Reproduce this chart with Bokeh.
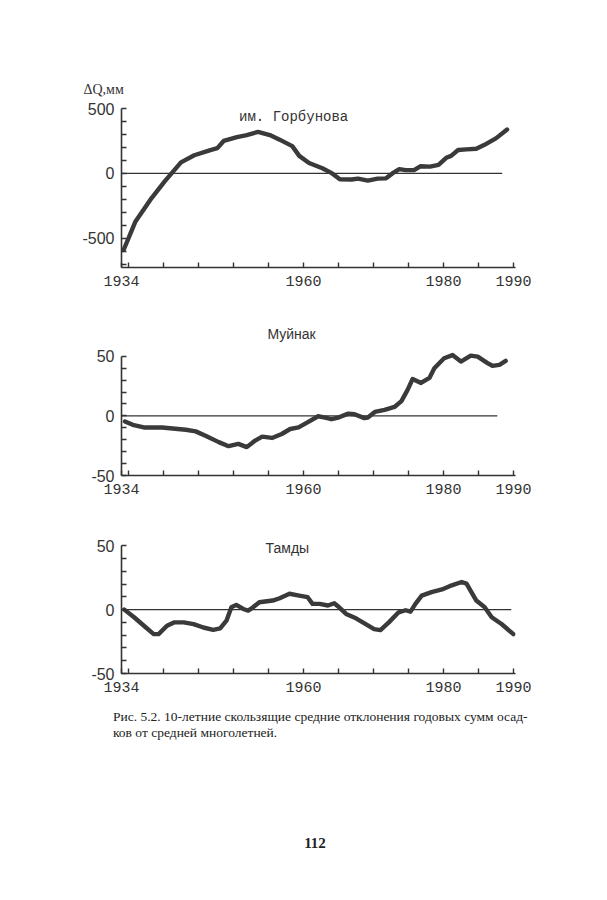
from bokeh.plotting import figure
from bokeh.models import FixedTicker, Label, Title, Div
from bokeh.layouts import column
from bokeh.embed import file_html
from bokeh.resources import INLINE

# ---------------- data ----------------
gorb_years = [1934.3, 1936.0, 1938.3, 1940.2, 1941.3, 1942.5, 1944.4, 1946.7, 1947.7, 1948.6,
              1950.5, 1951.9, 1953.5, 1955.2, 1956.6, 1958.4, 1959.4, 1960.8, 1962.7, 1964.1,
              1965.2, 1966.9, 1967.8, 1969.2, 1970.6, 1971.8, 1972.7, 1973.7, 1974.6, 1975.8,
              1976.7, 1978.1, 1979.3, 1980.4, 1981.1, 1982.1, 1983.3, 1984.7, 1985.8, 1987.5, 1989.1]
gorb_vals = [-590, -370, -190, -60, 10, 85, 140, 180, 195, 250,
             280, 295, 320, 295, 260, 210, 135, 80, 40, 0,
             -45, -47, -40, -55, -40, -38, 0, 33, 25, 25,
             55, 52, 65, 120, 135, 180, 185, 190, 218, 270, 338]

muin_years = [1934.5, 1935.6, 1937.2, 1939.8, 1943.2, 1944.6, 1946.0, 1947.9, 1949.3, 1950.7,
              1951.9, 1953.1, 1954.1, 1955.5, 1956.9, 1958.1, 1959.3, 1960.7, 1962.1, 1963.1,
              1964.0, 1965.0, 1966.4, 1967.3, 1968.7, 1969.2, 1970.2, 1971.6, 1973.0, 1974.0,
              1974.9, 1975.6, 1976.8, 1978.0, 1978.7, 1980.1, 1981.3, 1982.5, 1983.9, 1984.9,
              1986.3, 1987.0, 1988.0, 1988.9]
muin_vals = [-4.7, -7.5, -9.7, -9.7, -11.6, -13.0, -16.6, -22.0, -25.4, -23.5,
             -26.2, -20.7, -17.4, -18.5, -15.2, -11.0, -9.7, -5.0, -0.3, -1.4,
             -2.8, -1.4, 1.9, 1.4, -1.9, -1.4, 3.3, 5.0, 7.5, 12.4,
             22.0, 31.0, 27.6, 31.8, 40.0, 48.3, 51.0, 45.6, 50.5, 49.7,
             44.2, 42.0, 42.8, 46.1]

tamd_years = [1934.4, 1935.8, 1937.2, 1938.6, 1939.3, 1940.5, 1941.5, 1942.9, 1944.3, 1945.7,
              1947.1, 1948.1, 1949.0, 1949.7, 1950.4, 1951.4, 1952.1, 1952.8, 1953.7, 1955.6,
              1956.6, 1958.0, 1959.4, 1960.6, 1961.3, 1962.3, 1963.5, 1964.4, 1965.1, 1966.1,
              1967.5, 1968.9, 1970.1, 1971.0, 1972.2, 1973.6, 1974.6, 1975.3, 1976.0, 1976.9,
              1978.3, 1979.8, 1981.2, 1982.6, 1983.3, 1984.0, 1984.7, 1985.9, 1986.9, 1988.3, 1990.0]
tamd_vals = [0.0, -6.0, -12.6, -19.2, -19.2, -12.6, -10.0, -10.0, -11.3, -14.0,
             -15.8, -14.7, -8.7, 1.8, 3.7, 0.5, -0.8, 1.8, 5.8, 7.1,
             8.9, 12.4, 11.0, 9.7, 4.5, 4.5, 3.2, 5.0, 1.8, -3.4,
             -6.8, -11.3, -15.3, -16.0, -10.0, -2.1, -0.5, -1.6, 4.5, 11.0,
             13.7, 15.8, 19.0, 21.6, 20.3, 13.7, 7.1, 1.8, -6.0, -11.3, -19.2]

zero_start = 1934
zero_end = [1988.4, 1987.7, 1989.7]

x_ticks = [1934] + list(range(1935, 1991, 5))
x_labels = {1934: "1934", 1960: "1960", 1980: "1980", 1990: "1990"}

gorb_yticks = list(range(-700, 501, 100))
gorb_ylabels = {500: "500", 0: "0", -500: "-500"}
small_yticks = list(range(-50, 51, 10))
small_ylabels = {50: "50", 0: "0", -50: "-50"}

titles = ["им. Горбунова", "Муйнак", "Тамды"]
unit_label = "\u0394Q,мм"
caption1 = "Рис. 5.2. 10-летние скользящие средние отклонения годовых сумм осад-"
caption2 = "ков от средней многолетней."
page_no = "112"

INK = "#333333"
CURVE = "#3a3a3a"
XEND = 1990.3


def panel(height, top, bottom, yr, ybounds, yticks, ylabels, xs, ys, zend):
    p = figure(width=607, height=height, x_range=(1934, XEND), y_range=yr,
               output_backend="svg", toolbar_location=None,
               min_border_left=121, min_border_right=92,
               min_border_top=top, min_border_bottom=bottom)
    p.grid.visible = False
    p.outline_line_color = None
    p.background_fill_color = "white"
    p.border_fill_color = "white"

    p.xaxis.ticker = FixedTicker(ticks=x_ticks)
    p.xaxis.major_label_overrides = {t: x_labels.get(t, "") for t in x_ticks}
    p.yaxis.ticker = FixedTicker(ticks=yticks)
    p.yaxis.major_label_overrides = {t: ylabels.get(t, "") for t in yticks}
    p.yaxis.bounds = ybounds
    for ax in (p.xaxis, p.yaxis):
        ax.axis_line_color = INK
        ax.axis_line_width = 1.6
        ax.major_tick_in = 5
        ax.major_tick_out = 0
        ax.major_tick_line_color = INK
        ax.major_tick_line_width = 1.4
        ax.minor_tick_line_color = None
        ax.major_label_text_color = INK
    p.xaxis.major_label_text_font = "Liberation Mono"
    p.xaxis.major_label_text_font_size = "15px"
    p.xaxis.major_label_standoff = 8
    p.yaxis.major_label_text_font = "Liberation Sans"
    p.yaxis.major_label_text_font_size = "16px"
    p.yaxis.major_label_standoff = 7

    p.line([zero_start, zend], [0, 0], line_color=INK, line_width=1.1)
    p.line(xs, ys, line_color=CURVE, line_width=4.4, line_join="round", line_cap="round")
    return p


p1 = panel(300, 108, 33, (-725, 500), (-725, 500), gorb_yticks, gorb_ylabels,
           gorb_years, gorb_vals, zero_end[0])
p1.add_layout(Label(x=1958.6, y=438, text=titles[0], text_align="center", text_baseline="middle",
                    text_font="Liberation Mono", text_font_size="14px", text_color=INK))
p1.add_layout(Title(text=unit_label, align="left", offset=-38, standoff=23,
                    text_font="Liberation Serif", text_font_size="14px",
                    text_font_style="normal", text_color=INK), "above")

p2 = panel(210, 20, 35, (-50, 80), (-50, 50), small_yticks, small_ylabels,
           muin_years, muin_vals, zero_end[1])
p2.add_layout(Label(x=1958.3, y=69.0, text=titles[1], text_align="center", text_baseline="middle",
                    text_font="Liberation Sans", text_font_size="14px", text_color=INK))

p3 = panel(190, 25, 27, (-50, 58), (-50, 50), small_yticks, small_ylabels,
           tamd_years, tamd_vals, zero_end[2])
p3.add_layout(Label(x=1957.7, y=48, text=titles[2], text_align="center", text_baseline="middle",
                    text_font="Liberation Sans", text_font_size="14px", text_color=INK))

cap_html = (
    '<div style="position:relative;width:607px;height:190px;'
    'font-family:\'Liberation Serif\',serif;color:#222222;">'
    f'<div style="position:absolute;left:108px;top:2px;font-size:13.5px;white-space:nowrap;">{caption1}</div>'
    f'<div style="position:absolute;left:108px;top:18px;font-size:13.5px;white-space:nowrap;">{caption2}</div>'
    f'<div style="position:absolute;left:287px;top:128px;width:46px;text-align:center;'
    f'font-size:15px;font-weight:bold;">{page_no}</div>'
    '</div>'
)
cap = Div(text=cap_html, width=607, height=192)

layout = column(p1, p2, p3, cap, spacing=0)
open("out.html", "w").write(file_html(layout, INLINE))
